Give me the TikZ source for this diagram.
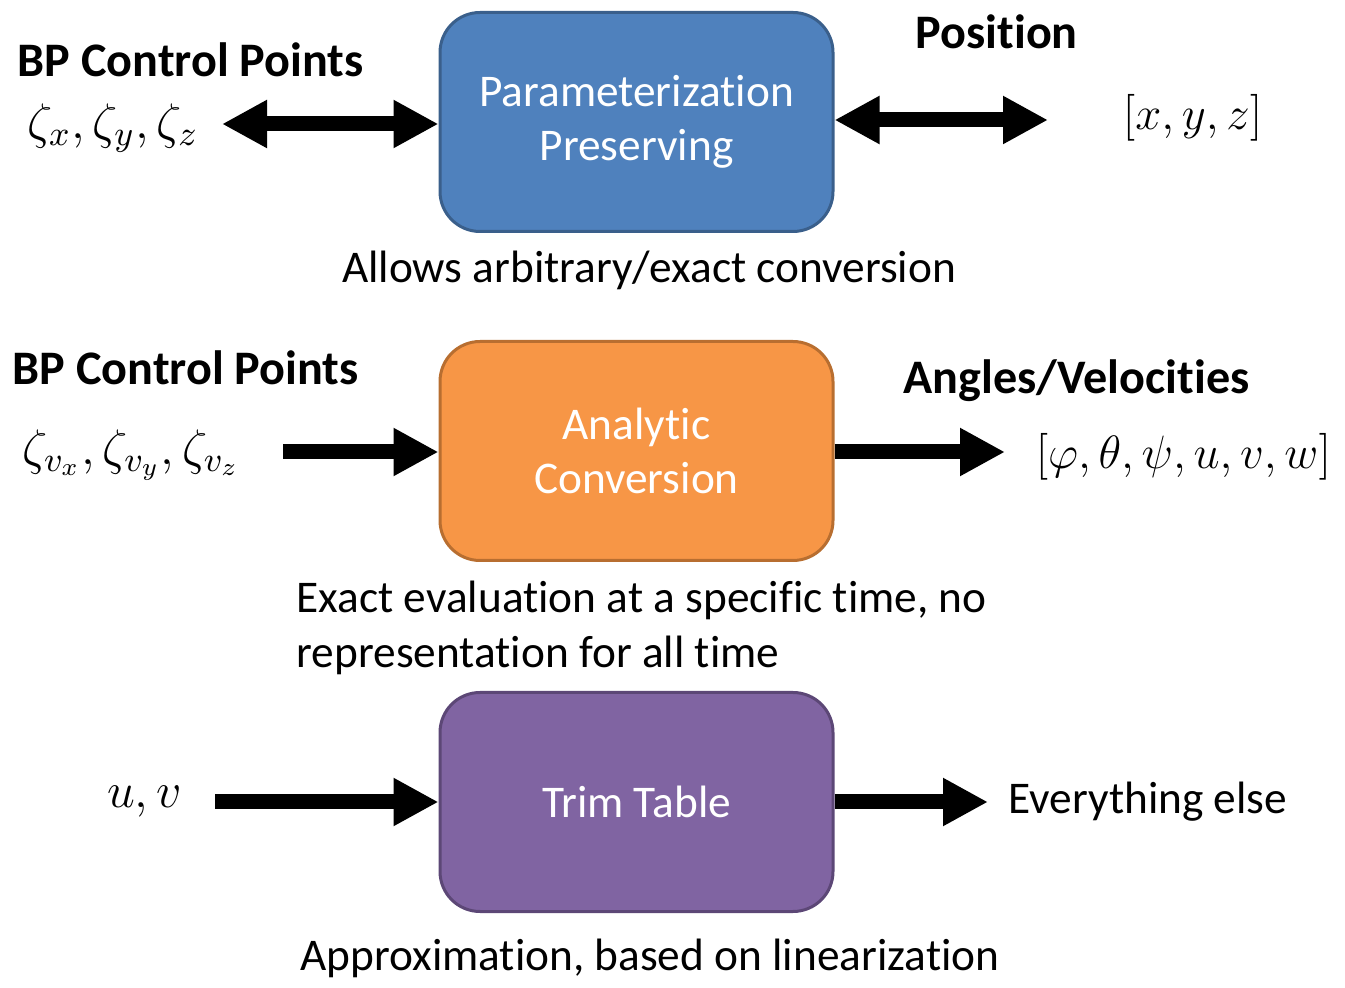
\RequirePackage{fix-cm}
\documentclass[tikz,border=0pt]{standalone}
\usepackage{fontspec}
\setmainfont{Carlito}[Ligatures=NoCommon]
\usepackage{tikz}
\usetikzlibrary{arrows.meta}

\definecolor{blockblue}{HTML}{4F81BD}
\definecolor{edgeblue}{HTML}{3A5F8B}
\definecolor{blockorange}{HTML}{F79646}
\definecolor{edgeorange}{HTML}{B86E30}
\definecolor{blockpurple}{HTML}{8064A2}
\definecolor{edgepurple}{HTML}{5C4776}

\tikzset{
  block/.style={draw, line width=0.03cm, rounded corners=0.4cm,
    minimum width=3.93cm, minimum height=2.19cm, text=white,
    align=center, font=\fontsize{12.9}{15.3}\selectfont},
  head/.style={inner sep=0pt, font=\bfseries\fontsize{13.7}{16}\selectfont},
  note/.style={inner sep=0pt, font=\fontsize{12.9}{15.6}\selectfont},
  var/.style={inner sep=0pt, font=\fontsize{14.2}{17}\selectfont},
  vect/.style={inner sep=0pt, font=\fontsize{13.3}{16}\selectfont},
  fat/.style={line width=0.15cm, -{Triangle[length=0.45cm,width=0.45cm]}},
  fatboth/.style={line width=0.15cm,
    {Triangle[length=0.45cm,width=0.45cm]}-{Triangle[length=0.45cm,width=0.45cm]}},
}

\begin{document}
\begin{tikzpicture}
\useasboundingbox (0,0) rectangle (13.45,-9.88);

% position
\node[block, fill=blockblue, draw=edgeblue] (pp) at (6.365,-1.22) {Parameterization\\Preserving};
\node[head, anchor=west] (bp1) at (0.17,-0.60) {BP Control Points};
\node[var, anchor=west] (zeta) at (0.27,-1.28) {$\zeta_x, \zeta_y, \zeta_z$};
\node[head, anchor=west] (pos) at (9.15,-0.32) {Position};
\node[vect, anchor=west] (xyz) at (11.22,-1.18) {$[x, y, z]$};
\node[note] (pptxt) at (6.49,-2.70) {Allows arbitrary/exact conversion};
\coordinate (pin) at (2.22,-1.24);
\coordinate (pout) at (10.48,-1.20);

% angles and velocities
\node[block, fill=blockorange, draw=edgeorange] (ac) at (6.365,-4.51) {Analytic\\Conversion};
\node[head, anchor=west] (bp2) at (0.12,-3.68) {BP Control Points};
\node[var, anchor=west] (zetav) at (0.22,-4.55) {$\zeta_{v_x}, \zeta_{v_y}, \zeta_{v_z}$};
\node[head, anchor=west] (ang) at (9.03,-3.81) {Angles/Velocities};
\node[vect, anchor=east] (att) at (13.32,-4.57) {$[\varphi, \theta, \psi, u, v, w]$};
\node[note, anchor=west, align=left] (actxt) at (2.96,-6.28) {Exact evaluation at a specific time, no\\representation for all time};
\coordinate (ain) at (2.83,-4.52);
\coordinate (aout) at (10.05,-4.52);

% trim table
\node[block, fill=blockpurple, draw=edgepurple] (tt) at (6.365,-8.02) {Trim Table};
\node[var, anchor=east] (uv) at (1.83,-8.02) {$u, v$};
\node[note, anchor=west] (rest) at (10.08,-8.02) {Everything else};
\node[note] (tttxt) at (6.50,-9.58) {Approximation, based on linearization};
\coordinate (tin) at (2.15,-8.02);
\coordinate (tout) at (9.88,-8.02);

\draw[fatboth] (pin) -- (pp.west |- pin);
\draw[fatboth] (pp.east |- pout) -- (pout);
\draw[fat] (ain) -- (ac.west |- ain);
\draw[fat] (ac.east |- aout) -- (aout);
\draw[fat] (tin) -- (tt.west |- tin);
\draw[fat] (tt.east |- tout) -- (tout);
\end{tikzpicture}
\end{document}
